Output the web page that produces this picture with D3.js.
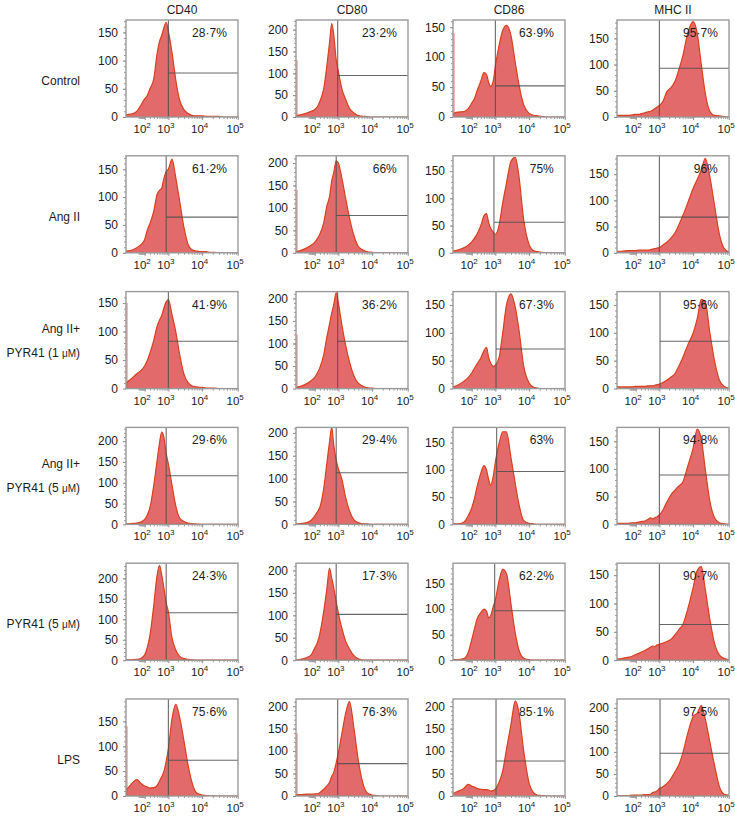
<!DOCTYPE html>
<html>
<head>
<meta charset="utf-8">
<script src="https://cdn.jsdelivr.net/npm/d3@7"></script>
<style>
body { margin: 0; background: #fff; }
text { font-family: "Liberation Sans", Arial, sans-serif; fill: #1c1c1c; }
</style>
</head>
<body>
<svg id="chart" width="735" height="818"></svg>
<script>
// markers (columns) and treatments (rows)
var markers = ["CD40", "CD80", "CD86", "MHC II"];
var conditions = [["Control"], ["Ang II"], ["Ang II+", "PYR41 (1 μM)"], ["Ang II+", "PYR41 (5 μM)"], ["PYR41 (5 μM)"], ["LPS"]];

// fluorescence intensity of each histogram point (same for every panel)
var xGrid = [-150, -75, 0, 50, 100, 150, 200, 300, 400, 500, 600, 700, 850, 1000, 1300, 1700, 2200, 3000, 4000, 5000,
             7000, 10000, 13000, 17000, 22000, 30000, 40000, 55000, 75000, 100000];
var xTicks = [1e2, 1e3, 1e4, 1e5];
var xMinor = [20, 30, 40, 50, 60, 70, 80, 90, 200, 300, 400, 500, 600, 700, 800, 900,
              2000, 3000, 4000, 5000, 6000, 7000, 8000, 9000, 20000, 30000, 40000, 50000, 60000, 70000, 80000, 90000];

// top of the count axis, per row / column
var yAxisMax = [[172, 222, 162, 185], [174, 216, 178, 185], [170, 215, 174, 174],
                [233, 212, 178, 175], [237, 216, 190, 171], [195, 216, 216, 220]];

var percents = [["28·7%", "23·2%", "63·9%", "95·7%"], ["61·2%", "66%", "75%", "96%"], ["41·9%", "36·2%", "67·3%", "95·6%"],
                ["29·6%", "29·4%", "63%", "94·8%"], ["24·3%", "17·3%", "62·2%", "90·7%"], ["75·6%", "76·3%", "85·1%", "97·5%"]];

// gate: vertical at gateX (intensity), horizontal at gateY (count)
var gateX = [[1000, 950, 1000, 1000], [850, 850, 900, 1000], [1000, 950, 1050, 1050],
             [850, 850, 1100, 1000], [850, 850, 950, 1000], [1000, 950, 1050, 1050]];
var gateY = [[78, 95, 52, 93], [64, 83, 56, 68], [83, 105, 71, 85],
             [117, 113, 97, 89], [116, 102, 97, 63], [72, 72, 78, 97]];

// events piled at the lower edge
var edgeSpike = [[0, 130, 140, 0], [0, 140, 0, 0], [150, 120, 0, 0], [0, 0, 0, 0], [0, 0, 0, 0], [140, 140, 0, 0]];

// counts at each xGrid point, one array per row
var cd40 = [
  [4, 5, 10, 22, 32, 39, 50, 68, 110, 134, 145, 157, 168, 152, 115, 66, 31, 13, 6, 3, 2, 2, 1, 1, 1, 1, 0, 0, 0, 0],
  [3, 4, 9, 15, 24, 42, 52, 75, 104, 112, 116, 132, 146, 150, 168, 135, 95, 45, 14, 6, 3, 2, 2, 1, 1, 0, 0, 0, 0, 0],
  [10, 16, 26, 32, 40, 50, 62, 85, 108, 120, 128, 140, 152, 156, 130, 100, 62, 25, 10, 5, 3, 2, 1, 1, 1, 0, 0, 0, 0, 0],
  [1, 2, 3, 6, 12, 24, 40, 95, 150, 196, 222, 212, 170, 145, 95, 45, 16, 7, 3, 2, 1, 0, 0, 0, 0, 0, 0, 0, 0, 0],
  [1, 1, 2, 5, 13, 33, 60, 135, 205, 232, 208, 180, 140, 118, 55, 25, 10, 4, 2, 1, 0, 0, 0, 0, 0, 0, 0, 0, 0, 0],
  [12, 22, 33, 25, 20, 18, 16, 17, 21, 30, 39, 48, 70, 95, 155, 184, 160, 110, 60, 30, 6, 2, 1, 0, 0, 0, 0, 0, 0, 0]
];
var cd80 = [
  [4, 5, 9, 13, 17, 24, 36, 66, 119, 170, 214, 190, 131, 104, 64, 40, 20, 9, 3, 2, 1, 0, 0, 0, 0, 0, 0, 0, 0, 0],
  [3, 5, 11, 17, 23, 32, 42, 68, 105, 125, 160, 178, 205, 200, 165, 120, 78, 38, 14, 8, 3, 1, 0, 0, 0, 0, 0, 0, 0, 0],
  [3, 5, 11, 18, 25, 35, 47, 76, 115, 143, 168, 185, 213, 190, 140, 95, 60, 28, 12, 7, 2, 1, 0, 0, 0, 0, 0, 0, 0, 0],
  [1, 2, 4, 9, 18, 28, 38, 80, 135, 180, 212, 175, 140, 122, 98, 58, 30, 10, 4, 2, 1, 0, 0, 0, 0, 0, 0, 0, 0, 0],
  [1, 2, 6, 12, 27, 40, 60, 110, 160, 205, 182, 162, 130, 105, 70, 42, 25, 10, 3, 1, 0, 0, 0, 0, 0, 0, 0, 0, 0, 0],
  [3, 3, 4, 4, 5, 5, 8, 15, 23, 30, 44, 52, 74, 96, 140, 185, 210, 150, 80, 40, 8, 2, 1, 0, 0, 0, 0, 0, 0, 0]
];
var cd86 = [
  [6, 8, 9, 14, 23, 31, 43, 60, 74, 71, 57, 51, 60, 85, 119, 145, 153, 136, 91, 57, 20, 6, 3, 2, 1, 0, 0, 0, 0, 0],
  [3, 5, 9, 14, 20, 27, 34, 50, 68, 72, 55, 45, 38, 34, 50, 92, 128, 168, 175, 145, 60, 15, 4, 2, 1, 0, 0, 0, 0, 0],
  [3, 6, 13, 20, 28, 37, 44, 55, 68, 74, 55, 46, 40, 42, 55, 100, 150, 170, 146, 110, 40, 10, 3, 1, 0, 0, 0, 0, 0, 0],
  [1, 1, 4, 16, 30, 48, 68, 94, 108, 100, 82, 72, 88, 115, 148, 170, 170, 122, 75, 40, 7, 2, 1, 0, 0, 0, 0, 0, 0, 0],
  [1, 1, 3, 15, 40, 62, 80, 93, 100, 96, 83, 87, 105, 118, 155, 178, 170, 110, 53, 22, 4, 1, 0, 0, 0, 0, 0, 0, 0, 0],
  [6, 10, 17, 26, 22, 20, 17, 15, 14, 14, 13, 11, 12, 15, 30, 56, 104, 160, 212, 190, 100, 28, 8, 2, 1, 0, 0, 0, 0, 0]
];
var mhc2 = [
  [3, 3, 3, 4, 5, 5, 6, 8, 10, 11, 13, 16, 19, 22, 30, 48, 55, 68, 93, 115, 160, 182, 160, 100, 45, 10, 3, 2, 1, 0],
  [3, 3, 4, 4, 4, 5, 5, 5, 5, 6, 7, 8, 9, 10, 15, 20, 27, 38, 55, 70, 95, 123, 140, 158, 180, 143, 91, 35, 8, 2],
  [3, 3, 3, 3, 4, 4, 4, 4, 5, 5, 5, 6, 7, 8, 11, 15, 20, 27, 42, 55, 78, 100, 125, 160, 155, 98, 50, 15, 4, 1],
  [2, 2, 2, 3, 3, 4, 5, 6, 9, 12, 10, 12, 14, 17, 26, 40, 52, 62, 70, 76, 105, 138, 172, 154, 100, 40, 12, 3, 1, 0],
  [2, 3, 5, 7, 10, 12, 14, 17, 20, 23, 25, 24, 27, 28, 30, 33, 36, 45, 55, 62, 90, 128, 158, 165, 125, 70, 30, 9, 3, 1],
  [1, 1, 1, 2, 2, 2, 2, 3, 3, 4, 8, 9, 12, 17, 21, 28, 38, 55, 73, 96, 142, 180, 188, 205, 175, 120, 70, 21, 4, 2]
];
var series = [cd40, cd80, cd86, mhc2];

// layout
var panelW = 112, panelH = 97;
var colLeft = [126, 296, 453, 617];
var firstTop = 20, rowPitch = 135.8;

var svg = d3.select("#chart");

// column titles
markers.forEach(function (m, j) {
  svg.append("text")
    .attr("x", colLeft[j] + panelW / 2)
    .attr("y", 14)
    .attr("text-anchor", "middle")
    .style("font-size", "12px")
    .text(m);
});

// put "μM" in small type
function writeLabel(sel, str) {
  var parts = str.split("μM");
  sel.append("tspan").text(parts[0]);
  if (parts.length > 1) {
    sel.append("tspan").style("font-size", "10px").text("μM");
    sel.append("tspan").text(parts[1]);
  }
}

// row labels
conditions.forEach(function (lines, i) {
  var base = firstTop + rowPitch * i + panelH;
  lines.forEach(function (line, k) {
    var t = svg.append("text")
      .attr("x", 80)
      .attr("y", base - 32 - 24 * (lines.length - 1 - k))
      .attr("text-anchor", "end")
      .style("font-size", "12px");
    writeLabel(t, line);
  });
});

var x = d3.scaleSymlog().constant(150).domain([-150, 102000]).range([0, panelW]);

for (var i = 0; i < conditions.length; i++) {
  for (var j = 0; j < markers.length; j++) {
    drawPanel(i, j);
  }
}

function drawPanel(i, j) {
  var top = firstTop + rowPitch * i;
  var g = svg.append("g").attr("transform", `translate(${colLeft[j]}, ${top})`);
  var yMax = yAxisMax[i][j];
  var y = d3.scaleLinear().domain([0, yMax]).range([panelH, 0]);
  var counts = series[j][i];
  var pts = xGrid.map(function (v, k) { return {v: v, c: counts[k]}; });

  var clipId = "clip" + i + "_" + j;
  g.append("clipPath").attr("id", clipId)
    .append("rect").attr("width", panelW).attr("height", panelH);

  var plot = g.append("g").attr("clip-path", `url(#${clipId})`);

  var area = d3.area()
    .x(function (d) { return x(d.v); })
    .y0(y(0))
    .y1(function (d) { return y(d.c); })
    .curve(d3.curveMonotoneX);

  plot.append("path")
    .datum(pts)
    .attr("d", area)
    .attr("fill", "#e26a6a")
    .attr("stroke", "#d8401f")
    .attr("stroke-width", 1.2)
    .attr("stroke-linejoin", "round");

  if (edgeSpike[i][j] > 0) {
    plot.append("line")
      .attr("x1", 1).attr("x2", 1)
      .attr("y1", y(0)).attr("y2", y(edgeSpike[i][j]))
      .attr("stroke", "#e05a4a")
      .attr("stroke-opacity", 0.55)
      .attr("stroke-width", 1.5);
  }

  // gate lines
  var gx = x(gateX[i][j]);
  plot.append("line")
    .attr("x1", gx).attr("x2", gx).attr("y1", 0).attr("y2", panelH)
    .attr("stroke", "#4d4d4d").attr("stroke-opacity", 0.85).attr("stroke-width", 1.1);
  plot.append("line")
    .attr("x1", gx).attr("x2", panelW).attr("y1", y(gateY[i][j])).attr("y2", y(gateY[i][j]))
    .attr("stroke", "#4d4d4d").attr("stroke-opacity", 0.85).attr("stroke-width", 1.1);

  // frame
  g.append("rect")
    .attr("width", panelW).attr("height", panelH)
    .attr("fill", "none")
    .attr("stroke", "#9a9a9a")
    .attr("stroke-width", 1.4);

  // y axis
  var yAxis = g.append("g")
    .call(d3.axisLeft(y).tickValues(d3.range(0, yMax + 1, 50)).tickSize(3).tickPadding(5).tickFormat(d3.format("d")));
  yAxis.select(".domain").remove();
  yAxis.selectAll("line").attr("stroke", "#888");
  yAxis.selectAll("text").style("font-size", "12px").style("font-family", '"Liberation Sans", Arial, sans-serif').attr("fill", "#1c1c1c");

  var yMinor = g.append("g")
    .call(d3.axisLeft(y).tickValues(d3.range(10, yMax, 10)).tickSize(2).tickFormat(""));
  yMinor.select(".domain").remove();
  yMinor.selectAll("line").attr("stroke", "#999");

  // x axis
  var xAxis = g.append("g")
    .attr("transform", `translate(0, ${panelH})`)
    .call(d3.axisBottom(x).tickValues(xTicks).tickSize(3).tickFormat(""));
  xAxis.select(".domain").remove();
  xAxis.selectAll("line").attr("stroke", "#888");

  var xMinorAxis = g.append("g")
    .attr("transform", `translate(0, ${panelH})`)
    .call(d3.axisBottom(x).tickValues(xMinor).tickSize(2).tickFormat(""));
  xMinorAxis.select(".domain").remove();
  xMinorAxis.selectAll("line").attr("stroke", "#999");

  xTicks.forEach(function (t) {
    var lab = g.append("text")
      .attr("x", x(t) - 2.5)
      .attr("y", panelH + 16)
      .attr("text-anchor", "middle")
      .style("font-size", "11.5px");
    lab.append("tspan").text("10");
    lab.append("tspan").attr("dy", -5).style("font-size", "8px").text(Math.round(Math.log10(t)));
  });

  // percentage in the gate
  g.append("text")
    .attr("x", panelW * 0.9)
    .attr("y", 17)
    .attr("text-anchor", "end")
    .style("font-size", "12px")
    .text(percents[i][j]);
}
</script>
</body>
</html>
